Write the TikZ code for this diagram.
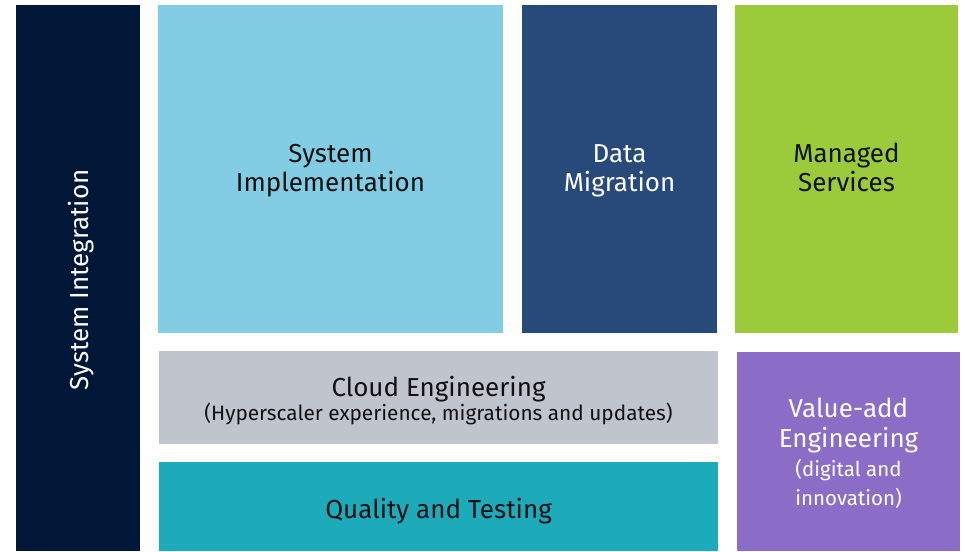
\documentclass[tikz,border=0pt]{standalone}
\usepackage{fontspec}
\setmainfont{Fira Sans}
\definecolor{navy}{HTML}{001738}
\definecolor{lblue}{HTML}{82CDE3}
\definecolor{dblue}{HTML}{284A7A}
\definecolor{lgreen}{HTML}{9BCB3B}
\definecolor{lgray}{HTML}{C0C4CC}
\definecolor{teal}{HTML}{1DAABA}
\definecolor{purp}{HTML}{8B6CC6}
\definecolor{ink}{HTML}{111111}
\begin{document}
\begin{tikzpicture}[x=1pt,y=-1pt,
  big/.style={font=\fontsize{26}{29}\selectfont,align=center,anchor=base,inner sep=0pt},
  small/.style={font=\fontsize{20.5}{28.5}\selectfont,align=center,anchor=base,inner sep=0pt}]
\useasboundingbox (0,0) rectangle (965,551);
\fill[navy]   (16,5) rectangle (140,551);
\fill[lblue]  (158,5) rectangle (503,333);
\fill[dblue]  (522,5) rectangle (717,333);
\fill[lgreen] (735,5) rectangle (958,333);
\fill[lgray]  (159,351) rectangle (718,444);
\fill[teal]   (159,462) rectangle (718,551);
\fill[purp]   (737,352) rectangle (960,551);
\node[big,white,rotate=90] (si) at (88,280) {System Integration};
\node[big,ink] (impl) at (330.5,191) {System\\Implementation};
\node[big,white] (dm) at (619.5,191) {Data\\Migration};
\node[big,ink] (ms) at (846.5,191) {Managed\\Services};
\node[big,ink] (ce) at (438.5,396) {Cloud Engineering};
\node[small,font=\fontsize{20.8}{24}\selectfont,ink] (ces) at (438.5,420) {(Hyperscaler experience, migrations and updates)};
\node[big,ink] (qt) at (438.5,518) {Quality and Testing};
\node[big,font=\fontsize{26}{30}\selectfont,white] (va) at (848.5,447) {Value-add\\Engineering};
\node[small,white] (vas) at (848.5,505) {(digital and\\innovation)};
\end{tikzpicture}
\end{document}
